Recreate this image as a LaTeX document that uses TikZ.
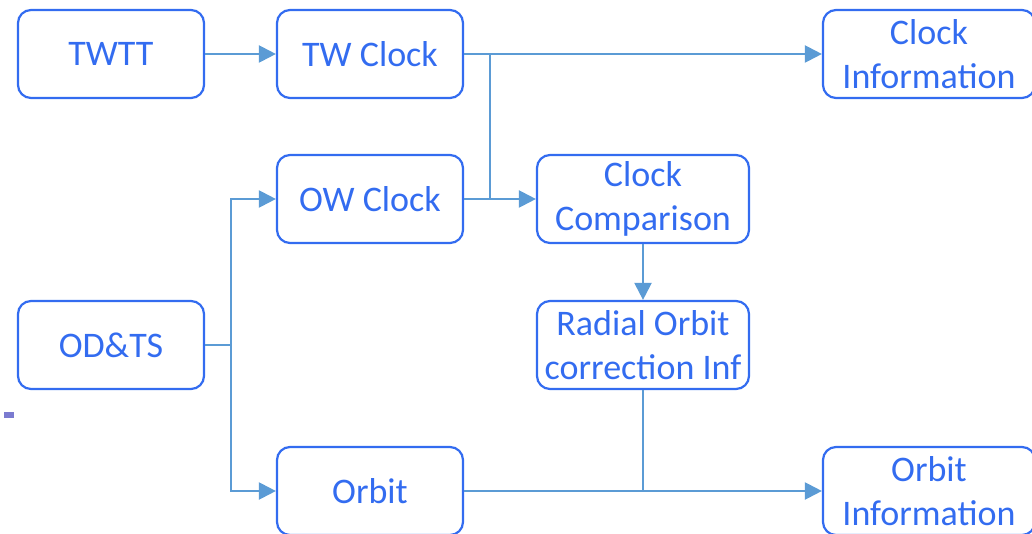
\documentclass[tikz,border=0pt]{standalone}
\usepackage{fontspec}
\setmainfont{Carlito}
\usetikzlibrary{arrows.meta}
\definecolor{boxblue}{HTML}{336CF0}
\definecolor{linkblue}{HTML}{5B9BD5}
\definecolor{marker}{HTML}{7B7BD0}
\tikzset{
  block/.style={draw=boxblue, line width=2.2pt, rounded corners=13pt,
    minimum width=186pt, minimum height=88pt, inner sep=0pt,
    text=boxblue, align=center, font=\fontsize{36}{44}\selectfont},
  wideblock/.style={block, minimum width=212pt},
  link/.style={draw=linkblue, line width=2.2pt},
  arrowlink/.style={link, -{Triangle[length=17pt,width=17pt]}}
}
\begin{document}
\begin{tikzpicture}[x=1pt,y=-1pt]
  \useasboundingbox (0,0) rectangle (1032,534);
  \clip (0,0) rectangle (1032,534);
  % boxes
  \node[block] (twtt) at (111,54) {TWTT};
  \node[block] (twc) at (370,54) {TW Clock};
  \node[wideblock] (cinfo) at (929,54) {Clock\\Information};
  \node[block] (owc) at (370,199) {OW Clock};
  \node[wideblock] (ccmp) at (643,199) {Clock\\Comparison};
  \node[block] (odts) at (111,345) {OD\&TS};
  \node[wideblock] (radial) at (643,345) {Radial Orbit\\correction Inf};
  \node[block] (orbit) at (370,491) {Orbit};
  \node[wideblock] (oinfo) at (929,491) {Orbit\\Information};
  % junction points
  \coordinate (jtw) at (490,54);
  \coordinate (jow) at (490,199);
  \coordinate (jod) at (231,345);
  \coordinate (jup) at (231,199);
  \coordinate (jdn) at (231,491);
  \coordinate (jorb) at (643,491);
  % connectors
  \draw[arrowlink] (twtt) -- (twc);
  \draw[arrowlink] (twc) -- (cinfo);
  \draw[link] (jtw) -- (jow);
  \draw[arrowlink] (owc) -- (ccmp);
  \draw[arrowlink] (ccmp) -- (radial);
  \draw[link] (odts) -- (jod);
  \draw[arrowlink] (jod) -- (jup) -- (owc);
  \draw[arrowlink] (jod) -- (jdn) -- (orbit);
  \draw[arrowlink] (orbit) -- (oinfo);
  \draw[link] (radial) -- (jorb);
  % small marker at the left edge
  \fill[marker] (4,412) rectangle (14,418);
\end{tikzpicture}
\end{document}
